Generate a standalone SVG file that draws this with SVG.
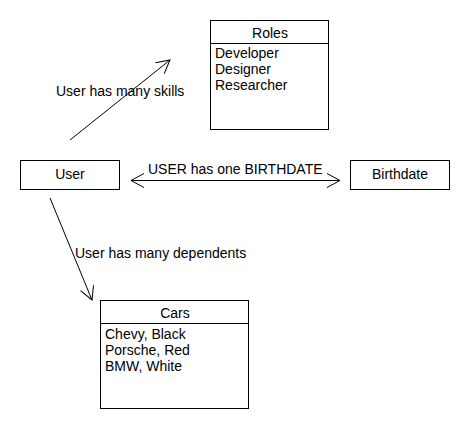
<svg xmlns="http://www.w3.org/2000/svg" width="470" height="430" viewBox="0 0 470 430">
<style>
.box{fill:#fff;stroke:#000;stroke-width:1}
.ln{stroke:#000;stroke-width:1;fill:none}
text{font-family:"Liberation Sans",Arial,sans-serif;font-size:14px;fill:#000}
.c{text-anchor:middle}
</style>
<defs>
<marker id="open" markerUnits="userSpaceOnUse" markerWidth="20" markerHeight="20" viewBox="-16 -10 20 20" refX="0" refY="0" orient="auto-start-reverse">
<path d="M-13,-7 L0,0 L-13,7" fill="none" stroke="#000" stroke-width="1"/>
</marker>
</defs>
<rect width="470" height="430" fill="#fff"/>
<g id="connectors">
<line class="ln" x1="70" y1="140" x2="170" y2="60" marker-end="url(#open)"/>
<text x="56" y="96">User has many skills</text>
<line class="ln" x1="131" y1="180.5" x2="340" y2="180.5" marker-start="url(#open)" marker-end="url(#open)"/>
<text x="148" y="174">USER has one BIRTHDATE</text>
<line class="ln" x1="50" y1="198" x2="92" y2="300" marker-end="url(#open)"/>
<text x="75" y="258">User has many dependents</text>
</g>
<g id="roles">
<rect class="box" x="210.5" y="20.5" width="118" height="109"/>
<line class="ln" x1="210.5" y1="43.5" x2="328.5" y2="43.5"/>
<text class="c" x="270" y="38">Roles</text>
<text x="215" y="58">Developer</text>
<text x="215" y="74">Designer</text>
<text x="215" y="90">Researcher</text>
</g>
<g id="user">
<rect class="box" x="20.5" y="160.5" width="99" height="29"/>
<text class="c" x="70" y="179">User</text>
</g>
<g id="birthdate">
<rect class="box" x="350.5" y="160.5" width="99" height="29"/>
<text class="c" x="400" y="179">Birthdate</text>
</g>
<g id="cars">
<rect class="box" x="100.5" y="300.5" width="148" height="108"/>
<line class="ln" x1="100.5" y1="323.5" x2="248.5" y2="323.5"/>
<text class="c" x="175" y="318">Cars</text>
<text x="105" y="339">Chevy, Black</text>
<text x="105" y="355">Porsche, Red</text>
<text x="105" y="371">BMW, White</text>
</g>
</svg>
